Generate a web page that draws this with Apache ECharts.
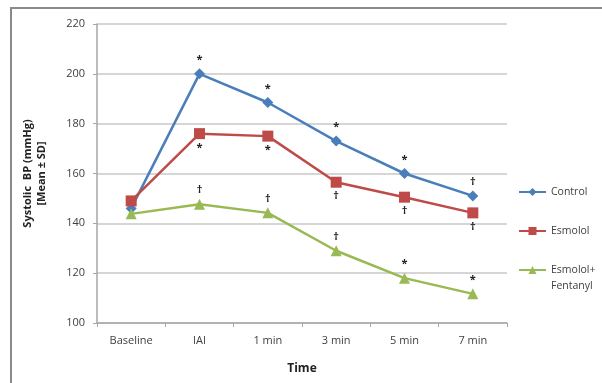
<!DOCTYPE html>
<html><head><meta charset="utf-8">
<script src="https://cdn.jsdelivr.net/npm/echarts@6/dist/echarts.min.js"></script>
<style>html,body{margin:0;padding:0;background:#fff}#c{width:602px;height:383px}</style>
</head><body><div id="c"></div>
<script>
var categories = ['Baseline', 'IAI', '1 min', '3 min', '5 min', '7 min'];
var controlVals = [146, 200, 188.5, 173, 160, 151];
var esmololVals = [149, 176, 175, 156.5, 150.5, 144.2];
var fentanylVals = [143.8, 147.7, 144.2, 129, 118, 111.7];
var controlMarks = ['', '*', '*', '*', '*', '\u2020'];
var esmololMarks = ['', '*', '*', '\u2020', '\u2020', '\u2020'];
var fentanylMarks = ['', '\u2020', '\u2020', '\u2020', '*', '*'];
var seriesNames = ['Control', 'Esmolol', 'Esmolol+\nFentanyl'];
var yTitle = 'Systolic  BP (mmHg)\n[Mean \u00b1 SD]';
var xTitle = 'Time';

var colors = ['#4a7ebb', '#be4b48', '#98b954'];
var font = '"Open Sans", "Liberation Sans", sans-serif';

function mkSeries(name, vals, marks, sym, size, color, pos) {
  return {
    name: name, type: 'line', data: vals, symbol: sym, symbolSize: size,
    itemStyle: { color: color }, lineStyle: { color: color, width: 2.5 },
    label: {
      show: true, position: pos, distance: 3,
      formatter: function (p) { return marks[p.dataIndex]; },
      color: '#222', fontSize: 11, fontWeight: 'bold', fontFamily: font
    },
    emphasis: { disabled: true }, animation: false
  };
}

var chart = echarts.init(document.getElementById('c'), null, { renderer: 'canvas' });
function legendAt(top, name, lead) {
  return {
    orient: 'vertical', left: 518, top: top, width: 90, data: [name],
    itemWidth: 27, itemHeight: 10, itemGap: 0, selectedMode: false, padding: 0,
    formatter: function (n) { return lead ? ' \n' + n : n; },
    textStyle: { fontSize: 10.5, color: '#404040', fontFamily: font, lineHeight: 16, width: 60, overflow: 'none' }
  };
}
chart.setOption({
  animation: false,
  color: colors,
  grid: { left: 97, right: 95, top: 24, bottom: 60 },
  legend: [
    legendAt(184, seriesNames[0]),
    legendAt(223, seriesNames[1]),
    legendAt(246, seriesNames[2], true)
  ],
  graphic: [{
    type: 'rect', shape: { x: 11, y: 8, width: 620, height: 400 },
    style: { fill: 'none', stroke: '#8a8a8a', lineWidth: 2 }, silent: true
  }],
  xAxis: {
    type: 'category', data: categories, boundaryGap: true,
    name: xTitle, nameLocation: 'middle', nameGap: 40,
    nameTextStyle: { fontSize: 12, fontWeight: 'bold', color: '#222', fontFamily: font },
    axisLine: { lineStyle: { color: '#a6a6a6', width: 1.5 } },
    axisTick: { show: true, length: 4, lineStyle: { color: '#a6a6a6' } },
    axisLabel: { fontSize: 11, color: '#404040', margin: 12, fontFamily: font }
  },
  yAxis: {
    type: 'value', min: 100, max: 220, interval: 20,
    name: yTitle, nameLocation: 'middle', nameGap: 48, nameRotate: 90,
    nameTextStyle: { fontSize: 11, fontWeight: 'bold', color: '#222', fontFamily: font, lineHeight: 14 },
    axisLine: { show: true, lineStyle: { color: '#a6a6a6', width: 1.5 } },
    axisTick: { show: true, length: 4, lineStyle: { color: '#a6a6a6' } },
    axisLabel: { fontSize: 11, color: '#404040', margin: 12, fontFamily: font },
    splitLine: { lineStyle: { color: '#d6d6d6', width: 2 } }
  },
  series: [
    mkSeries(seriesNames[0], controlVals, controlMarks, 'diamond', 11, colors[0], 'top'),
    mkSeries(seriesNames[1], esmololVals, esmololMarks, 'rect', 11, colors[1], 'bottom'),
    mkSeries(seriesNames[2], fentanylVals, fentanylMarks, 'triangle', 11, colors[2], 'top')
  ]
});
</script></body></html>
